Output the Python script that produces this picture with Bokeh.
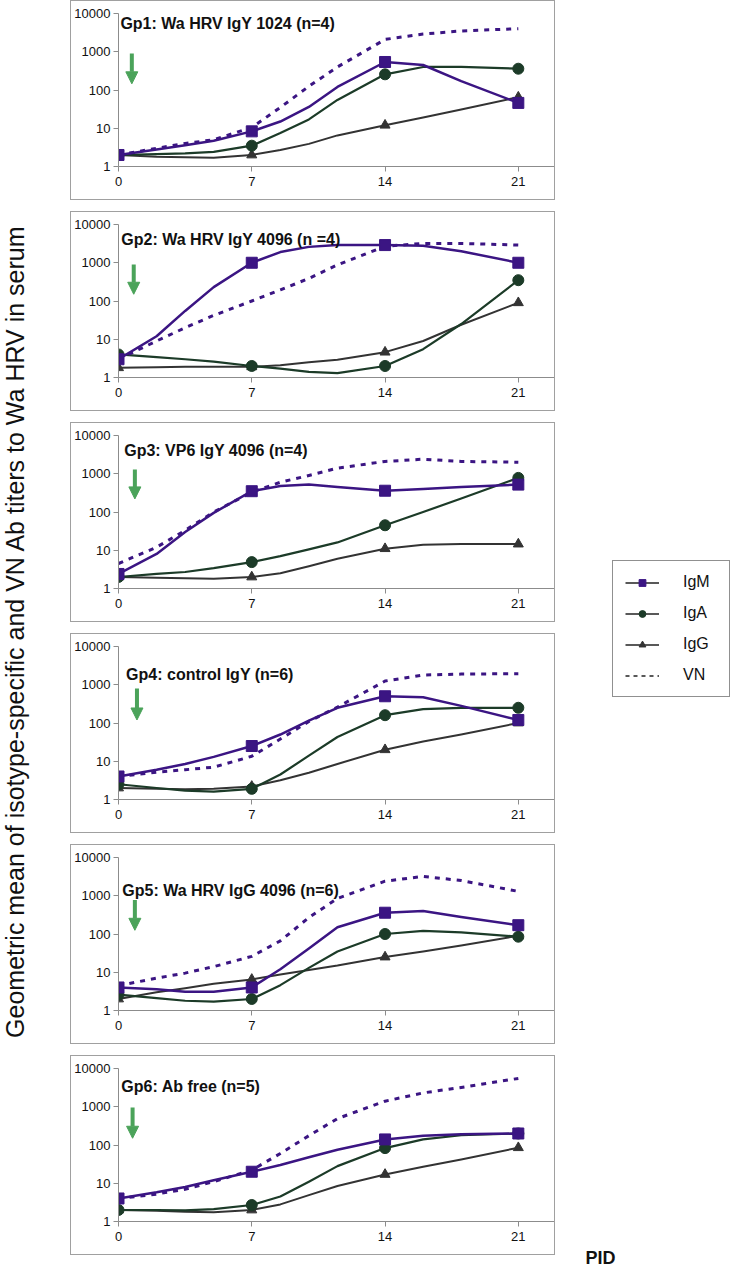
from math import pi
from bokeh.plotting import figure
from bokeh.models import (Range1d, FixedTicker, Label, Arrow, NormalHead,
                          Legend, LegendItem)
from bokeh.layouts import row, column
from bokeh.embed import file_html
from bokeh.resources import INLINE

# ---------------- data ----------------
DAYS = [0, 2, 3.5, 5, 7, 8.5, 10, 11.5, 14, 16, 18, 21]
MARK_DAYS = [0, 7, 14, 21]
X_TICKS = [0, 7, 14, 21]
Y_TICKS = [1, 10, 100, 1000, 10000]
Y_TICK_LABELS = ["1", "10", "100", "1000", "10000"]
SERIES = ["IgM", "IgA", "IgG", "VN"]

GROUP_TITLES = [
    "Gp1: Wa HRV IgY 1024 (n=4)",
    "Gp2: Wa HRV IgY 4096 (n =4)",
    "Gp3: VP6 IgY 4096 (n=4)",
    "Gp4: control IgY (n=6)",
    "Gp5: Wa HRV IgG 4096 (n=6)",
    "Gp6: Ab free (n=5)",
]

gp1_igm = [2, 2.8, 3.6, 4.7, 8.3, 15, 36, 120, 540, 450, 170, 46]
gp1_iga = [2, 2.1, 2.2, 2.4, 3.5, 7.5, 17, 55, 257, 400, 400, 360]
gp1_igg = [2, 1.8, 1.75, 1.7, 2.0, 2.7, 3.9, 6.5, 12, 19, 31, 65]
gp1_vn = [2, 3, 4, 5, 10.5, 35, 125, 400, 2100, 2900, 3500, 4000]

gp2_igm = [3, 12, 55, 230, 1000, 1900, 2600, 2900, 2900, 2800, 2000, 1000]
gp2_iga = [4, 3.4, 3, 2.6, 2, 1.7, 1.4, 1.3, 2, 5.5, 25, 350]
gp2_igg = [1.8, 1.85, 1.9, 1.9, 1.9, 2.1, 2.5, 2.9, 4.6, 9, 24, 90]
gp2_vn = [3, 9, 20, 42, 100, 195, 390, 880, 2700, 3200, 3200, 2900]

gp3_igm = [2.4, 8, 30, 95, 350, 480, 520, 450, 360, 400, 450, 520]
gp3_iga = [2, 2.4, 2.7, 3.4, 4.9, 7, 10.5, 16, 45, 100, 225, 780]
gp3_igg = [2, 1.9, 1.85, 1.8, 2, 2.5, 3.8, 6, 11, 14, 14.5, 14.5]
gp3_vn = [4.5, 12, 33, 100, 330, 600, 900, 1400, 2100, 2400, 2100, 2000]

gp4_igm = [4, 6, 8.5, 13, 25, 50, 115, 250, 500, 470, 280, 120]
gp4_iga = [2.5, 2, 1.7, 1.6, 1.9, 4.5, 14, 43, 160, 230, 250, 250]
gp4_igg = [2, 1.9, 1.85, 1.9, 2.2, 3.2, 5, 8.5, 20, 33, 50, 100]
gp4_vn = [4, 5.2, 6, 7, 13.5, 38, 110, 260, 1250, 1800, 1900, 1950]

gp5_igm = [4, 3.6, 3.1, 3.1, 4, 12, 42, 150, 360, 400, 280, 170]
gp5_iga = [2.6, 2.1, 1.8, 1.7, 2, 4.6, 13, 35, 100, 120, 110, 85]
gp5_igg = [2, 3, 3.8, 5, 6.5, 8.7, 11.5, 15, 25, 35, 50, 90]
gp5_vn = [4.5, 7, 9.5, 14, 26, 66, 270, 850, 2400, 3200, 2500, 1300]

gp6_igm = [4, 5.8, 8, 12, 20, 30, 48, 75, 140, 175, 190, 200]
gp6_iga = [2, 2, 1.95, 2.1, 2.7, 4.5, 11, 28, 83, 140, 180, 200]
gp6_igg = [2, 1.9, 1.8, 1.75, 2, 2.8, 4.9, 8.5, 17, 27, 42, 85]
gp6_vn = [4, 5.2, 7, 11, 22, 60, 175, 490, 1400, 2300, 3200, 5500]

# arrow (treatment) markers: day, top value, tip value
arrow_day = [0.7, 0.8, 0.86, 0.97, 0.86, 0.74]
arrow_top = [900, 900, 1290, 800, 780, 950]
arrow_tip = [145, 150, 220, 120, 125, 150]

GROUP_DATA = [
    {"IgM": gp1_igm, "IgA": gp1_iga, "IgG": gp1_igg, "VN": gp1_vn},
    {"IgM": gp2_igm, "IgA": gp2_iga, "IgG": gp2_igg, "VN": gp2_vn},
    {"IgM": gp3_igm, "IgA": gp3_iga, "IgG": gp3_igg, "VN": gp3_vn},
    {"IgM": gp4_igm, "IgA": gp4_iga, "IgG": gp4_igg, "VN": gp4_vn},
    {"IgM": gp5_igm, "IgA": gp5_iga, "IgG": gp5_igg, "VN": gp5_vn},
    {"IgM": gp6_igm, "IgA": gp6_iga, "IgG": gp6_igg, "VN": gp6_vn},
]

# ---------------- styles ----------------
FONT = "Liberation Sans"
PURPLE = "#3B1583"
GREEN_D = "#1C3B28"
GRAY_D = "#333333"
ARROW_GREEN = "#4BA35A"
BOX = "#a0a0a0"
LEGEND_LINE = "#222222"
NAN = float("nan")

STYLE = {
    "IgM": dict(color=PURPLE, width=2.5, dash="solid", marker="square", size=11),
    "IgA": dict(color=GREEN_D, width=2.2, dash="solid", marker="circle", size=11),
    "IgG": dict(color=GRAY_D, width=2.0, dash="solid", marker="triangle", size=10),
    "VN": dict(color=PURPLE, width=3.0, dash="5 6", marker=None, size=0),
}
DRAW_ORDER = ["IgG", "IgA", "VN", "IgM"]

# title placement (data coords)
title_x = [0.1, 0.15, 0.3, 0.4, 0.2, 0.15]
title_y = [10 ** 3.74, 10 ** 3.62, 10 ** 3.6, 10 ** 3.28, 10 ** 3.15, 10 ** 3.54]

panels = []
for i, data in enumerate(GROUP_DATA):
    p = figure(width=485, height=200, x_range=Range1d(0, 22.9),
               y_range=Range1d(1, 10000), y_axis_type="log",
               output_backend="svg", toolbar_location=None,
               min_border_left=47, min_border_right=2,
               min_border_top=12, min_border_bottom=35,
               styles={"border": "1px solid " + BOX})
    p.outline_line_color = None
    p.xgrid.visible = False
    p.ygrid.visible = False
    p.background_fill_color = "white"
    p.border_fill_color = "white"

    p.xaxis.ticker = FixedTicker(ticks=X_TICKS)
    p.yaxis.ticker = FixedTicker(ticks=Y_TICKS)
    p.yaxis.major_label_overrides = {t: l for t, l in zip(Y_TICKS, Y_TICK_LABELS)}
    for ax in (p.xaxis[0], p.yaxis[0]):
        ax.axis_line_color = "#8c8c8c"
        ax.axis_line_width = 1
        ax.major_tick_line_color = "#8c8c8c"
        ax.major_tick_out = 5
        ax.major_tick_in = 0
        ax.minor_tick_line_color = None
        ax.major_label_text_font = FONT
        ax.major_label_text_font_size = "13px"
        ax.major_label_text_color = "#111111"
    p.yaxis.major_label_standoff = 3
    p.xaxis.major_label_standoff = 5

    for s in DRAW_ORDER:
        st = STYLE[s]
        vals = data[s]
        p.line(DAYS, vals, line_color=st["color"], line_width=st["width"],
               line_dash=st["dash"], line_join="round")
        if st["marker"]:
            mx = [d for d in DAYS if d in MARK_DAYS]
            my = [v for d, v in zip(DAYS, vals) if d in MARK_DAYS]
            p.scatter(mx, my, marker=st["marker"], size=st["size"],
                      fill_color=st["color"], line_color=st["color"])

    p.add_layout(Arrow(end=NormalHead(size=12, fill_color=ARROW_GREEN,
                                      line_color=ARROW_GREEN, line_width=1),
                       x_start=arrow_day[i], y_start=arrow_top[i],
                       x_end=arrow_day[i], y_end=arrow_tip[i],
                       line_color=ARROW_GREEN, line_width=4))
    p.add_layout(Label(x=title_x[i], y=title_y[i], text=GROUP_TITLES[i],
                       text_font=FONT, text_font_size="16px",
                       text_font_style="bold", text_baseline="middle",
                       text_color="#111111"))
    panels.append(p)

# y-axis label column
ylab = figure(width=70, height=1271, x_range=Range1d(0, 70), y_range=Range1d(0, 1271),
              x_axis_type=None, y_axis_type=None, toolbar_location=None,
              output_backend="svg", min_border=0)
ylab.outline_line_color = None
ylab.add_layout(Label(x=14, y=640, angle=pi / 2,
                      text="Geometric mean of isotype-specific and VN Ab titers to Wa HRV in serum",
                      text_font=FONT, text_font_size="25px", text_align="center",
                      text_baseline="middle", text_color="#111111"))

# right column: legend + PID
rt = figure(width=179, height=1271, x_range=Range1d(0, 179), y_range=Range1d(0, 1271),
            x_axis_type=None, y_axis_type=None, toolbar_location=None,
            output_backend="svg", min_border=0)
rt.outline_line_color = None
items = []
for s in SERIES:
    st = STYLE[s]
    rends = [rt.line([NAN], [NAN], line_color=LEGEND_LINE, line_width=1.3,
                     line_dash="4 4" if st["dash"] != "solid" else "solid")]
    if st["marker"]:
        rends.append(rt.scatter([NAN], [NAN], marker=st["marker"], size=7,
                                fill_color=st["color"], line_color=st["color"]))
    items.append(LegendItem(label=s, renderers=rends))
leg = Legend(items=items, location=(57, 574), border_line_color="#222222",
             border_line_width=1, background_fill_color="white",
             background_fill_alpha=1.0, padding=12, spacing=13,
             glyph_width=34, glyph_height=17, label_standoff=24, label_width=34,
             label_text_font=FONT, label_text_font_size="16px",
             label_text_color="#111111", margin=0)
rt.add_layout(leg)
rt.add_layout(Label(x=45, y=14, text="PID", text_font=FONT, text_font_size="18px",
                    text_font_style="bold", text_align="center",
                    text_baseline="alphabetic", text_color="#111111"))

col = column(*panels, spacing=11)
layout = row(ylab, col, rt)
open("out.html", "w").write(file_html(layout, INLINE))
